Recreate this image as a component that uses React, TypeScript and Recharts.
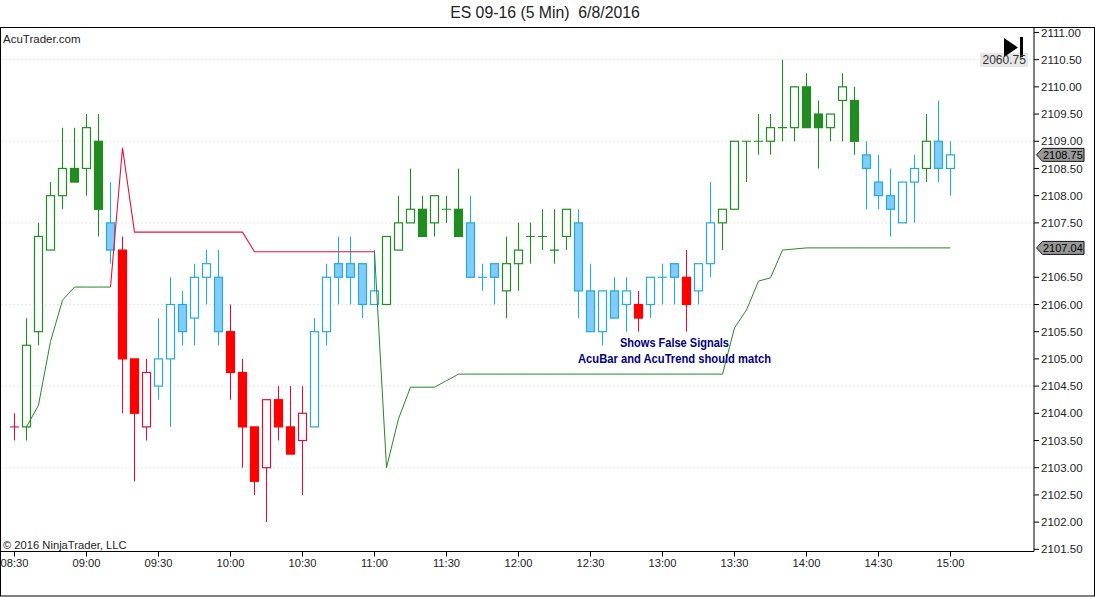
import { Bar, CartesianGrid, ComposedChart, Line, ReferenceDot, XAxis, YAxis } from "recharts"

const times = [
  "08:30", "08:35", "08:40", "08:45", "08:50", "08:55", "09:00", "09:05", "09:10", "09:15", "09:20", "09:25", "09:30",
  "09:35", "09:40", "09:45", "09:50", "09:55", "10:00", "10:05", "10:10", "10:15", "10:20", "10:25", "10:30", "10:35",
  "10:40", "10:45", "10:50", "10:55", "11:00", "11:05", "11:10", "11:15", "11:20", "11:25", "11:30", "11:35", "11:40",
  "11:45", "11:50", "11:55", "12:00", "12:05", "12:10", "12:15", "12:20", "12:25", "12:30", "12:35", "12:40", "12:45",
  "12:50", "12:55", "13:00", "13:05", "13:10", "13:15", "13:20", "13:25", "13:30", "13:35", "13:40", "13:45", "13:50",
  "13:55", "14:00", "14:05", "14:10", "14:15", "14:20", "14:25", "14:30", "14:35", "14:40", "14:45", "14:50", "14:55",
  "15:00",
]

const opens = [
  2103.75, 2103.75, 2105.5, 2107, 2108, 2108.5, 2108.5, 2109, 2107.5, 2107, 2105, 2103.75, 2104.5,
  2105, 2106, 2105.75, 2106.5, 2106.5, 2105.5, 2104.75, 2103.75, 2103, 2104.25, 2103.75, 2103.5, 2103.75,
  2105.5, 2106.75, 2106.75, 2106.75, 2106, 2106, 2107, 2107.5, 2107.75, 2107.5, 2107.75, 2107.75, 2107.5,
  2106.5, 2106.75, 2106.25, 2106.75, 2107.25, 2107.25, 2107, 2107.25, 2107.5, 2106.25, 2105.5, 2106.25, 2106,
  2106, 2106, 2106.5, 2106.75, 2106.5, 2106.25, 2106.75, 2107.5, 2107.75, 2109, 2109, 2109, 2109.25,
  2109.25, 2110, 2109.5, 2109.25, 2109.75, 2109.75, 2108.75, 2108.25, 2108, 2107.5, 2108.25, 2108.5, 2109,
  2108.5,
]
const highs = [
  2104, 2105.75, 2107.5, 2108.25, 2109.25, 2109.25, 2109.5, 2109.5, 2108.25, 2107.25, 2105, 2105, 2105.75,
  2106.5, 2106.25, 2106.75, 2107, 2107, 2106, 2105, 2103.75, 2104.25, 2104.5, 2104.5, 2104.5, 2105.75,
  2106.75, 2107.25, 2107.25, 2106.75, 2107, 2107.25, 2108, 2108.5, 2108, 2108, 2108, 2108.5, 2108,
  2106.75, 2106.75, 2107.25, 2107.5, 2107.5, 2107.75, 2107.75, 2107.75, 2107.75, 2106.75, 2106.25, 2106.5, 2106.5,
  2106.25, 2106.5, 2106.75, 2106.75, 2107, 2106.75, 2108.25, 2107.75, 2109, 2109, 2109.5, 2109.5, 2110.5,
  2110, 2110.25, 2109.75, 2109.5, 2110.25, 2110, 2109, 2108.75, 2108.5, 2108.25, 2108.75, 2109.5, 2109.75,
  2109,
]
const lows = [
  2103.5, 2103.5, 2105.25, 2107, 2107.75, 2108.25, 2108, 2107.25, 2106.75, 2104, 2102.75, 2103.5, 2104.25,
  2103.75, 2105.25, 2105.25, 2106, 2105.25, 2104.25, 2103, 2102.5, 2102, 2103.5, 2103.25, 2102.5, 2103.75,
  2105.25, 2106, 2106, 2105.75, 2106, 2106, 2107, 2107.5, 2107.25, 2107.25, 2107.5, 2107.25, 2106.5,
  2106.25, 2106, 2105.75, 2106.25, 2106.75, 2107, 2106.75, 2107, 2105.75, 2105.5, 2105.25, 2105.75, 2105.5,
  2105.5, 2105.75, 2106, 2106, 2105.5, 2106, 2106.5, 2107, 2107.75, 2108.25, 2108.75, 2108.75, 2109,
  2109, 2109.25, 2108.5, 2109, 2109, 2108.75, 2107.75, 2107.75, 2107.25, 2107.5, 2107.5, 2108.25, 2108.25,
  2108,
]
const closes = [
  2103.75, 2105.25, 2107.25, 2108, 2108.5, 2108.25, 2109.25, 2107.75, 2107, 2105, 2104, 2104.75, 2105,
  2106, 2105.5, 2106.5, 2106.75, 2105.5, 2104.75, 2103.75, 2102.75, 2104.25, 2103.75, 2103.25, 2104, 2105.5,
  2106.5, 2106.5, 2106.5, 2106, 2106.25, 2107.25, 2107.5, 2107.75, 2107.25, 2108, 2107.75, 2107.25, 2106.5,
  2106.5, 2106.5, 2106.75, 2107, 2107.25, 2107.25, 2107, 2107.75, 2106.25, 2105.5, 2106.25, 2105.75, 2106.25,
  2105.75, 2106.5, 2106.5, 2106.5, 2106, 2106.75, 2107.5, 2107.75, 2109, 2109, 2109, 2109.25, 2109.25,
  2110, 2109.25, 2109.25, 2109.5, 2110, 2109, 2108.5, 2108, 2107.75, 2108.25, 2108.5, 2109, 2108.5,
  2108.75,
]
// AcuBar state of each bar: g = long, b = neutral, r = short
const barStates = [
  "r", "ggggggg", "b", "rrr", "bbbbbb", "rrrrrrr", "bbbbbb", "ggggggg", "bbb", "gggggg", "bbbbb", "r", "bbb", "r", "bb",
  "gggggggggggg", "bbbbb", "g", "bb",
].join("")

const trendUp = [
  null, 2103.75, 2104.15, 2105.32, 2106.08, 2106.32, 2106.32, 2106.32, 2106.32, null, null, null, null,
  null, null, null, null, null, null, null, null, null, null, null, null, null,
  null, null, null, null, 2106.97, 2103, 2103.9, 2104.48, 2104.48, 2104.48, 2104.6, 2104.72, 2104.72,
  2104.72, 2104.72, 2104.72, 2104.72, 2104.72, 2104.72, 2104.72, 2104.72, 2104.72, 2104.72, 2104.72, 2104.72, 2104.72,
  2104.72, 2104.72, 2104.72, 2104.72, 2104.72, 2104.72, 2104.72, 2104.72, 2105.57, 2105.9, 2106.43, 2106.49, 2107,
  2107.02, 2107.04, 2107.04, 2107.04, 2107.04, 2107.04, 2107.04, 2107.04, 2107.04, 2107.04, 2107.04, 2107.04, 2107.04,
  2107.04,
]
const trendDown = [
  null, null, null, null, null, null, null, null, 2106.32, 2108.88, 2107.33, 2107.33, 2107.33,
  2107.33, 2107.33, 2107.33, 2107.33, 2107.33, 2107.33, 2107.33, 2106.97, 2106.97, 2106.97, 2106.97, 2106.97, 2106.97,
  2106.97, 2106.97, 2106.97, 2106.97, 2106.97,
]

const priceTicks = [
  2101.5, 2102, 2102.5, 2103, 2103.5, 2104, 2104.5, 2105, 2105.5, 2106, 2106.5, 2107.5, 2108, 2108.5, 2109,
  2109.5, 2110, 2110.5, 2111,
]
const gridLevels = [2103, 2104.5, 2106, 2107.5, 2109, 2110.5]
const timeTicks = [
  "08:30", "09:00", "09:30", "10:00", "10:30", "11:00", "11:30", "12:00", "12:30", "13:00", "13:30", "14:00", "14:30",
  "15:00",
]
const lastPrice = 2108.75
const lastTrend = 2107.04

const chartData = times.map((time, i) => ({
  time,
  open: opens[i],
  high: highs[i],
  low: lows[i],
  close: closes[i],
  state: barStates[i],
  trendUp: trendUp[i] ?? null,
  trendDown: trendDown[i] ?? null,
}))

const GREEN = "#228B22"
const RED = "#FF0000"
const CRIMSON = "#D0143C"
const BLUE = "#25A9DC"
const LIGHT_BLUE = "#82CCFB"
const FONT = "'Liberation Sans', Arial, sans-serif"

const styles: Record<string, { stroke: string; fill: string; wick: string }> = {
  g: { stroke: GREEN, fill: GREEN, wick: GREEN },
  b: { stroke: BLUE, fill: LIGHT_BLUE, wick: BLUE },
  r: { stroke: RED, fill: RED, wick: CRIMSON },
}

function Candle(props: any) {
  const { x, y, width, height, payload } = props
  const { open, high, low, close, state } = payload
  const s = styles[state]
  const cx = x + width / 2
  const pxPerPoint = Math.abs(height) / (high - low)
  const yOf = (p: number) => y + (high - p) * pxPerPoint
  const top = yOf(Math.max(open, close))
  const bottom = yOf(Math.min(open, close))
  const falling = close < open
  const hollowStroke = state === "r" ? CRIMSON : s.stroke
  return (
    <g>
      <line x1={cx} x2={cx} y1={y} y2={y + Math.abs(height)} stroke={s.wick} strokeWidth={1.1} />
      {open === close ? (
        <line x1={cx - 4.5} x2={cx + 4.5} y1={top} y2={top} stroke={hollowStroke} strokeWidth={1.1} />
      ) : (
        <rect
          x={cx - 4}
          y={top}
          width={8}
          height={bottom - top}
          fill={falling ? s.fill : "#fff"}
          stroke={falling ? s.stroke : hollowStroke}
          strokeWidth={1.2}
        />
      )}
    </g>
  )
}

function PriceTag(props: any) {
  const { cx, cy, label } = props
  // tag sits on the price scale, right of the last bar
  const left = cx + 86
  return (
    <g>
      <path
        d={`M${left} ${cy} L${left + 6} ${cy - 6.5} H${left + 47.5} V${cy + 6.5} H${left + 6} Z`}
        fill="#999"
        stroke="#111"
        strokeWidth={1}
      />
      <text x={left + 6.5} y={cy + 4} fontSize={11} fontFamily={FONT} fill="#000">
        {label}
      </text>
    </g>
  )
}

export default function App() {
  return (
    <div style={{ position: "absolute", left: 0, top: 0, width: 1095, height: 597, background: "#fff", overflow: "hidden" }}>
      <ComposedChart
        width={1095}
        height={597}
        data={chartData}
        margin={{ top: 27, left: 1, right: 0, bottom: 0 }}
        barCategoryGap={0}
      >
        <CartesianGrid
          vertical={false}
          horizontalValues={gridLevels}
          stroke="#e6e6e6"
          strokeDasharray="2 2"
        />
        <XAxis
          dataKey="time"
          ticks={timeTicks}
          interval={0}
          height={45.5}
          padding={{ left: 7.5, right: 77.5 }}
          stroke="#000"
          tickSize={5}
          tickMargin={3}
          tick={{ fontSize: 11.2, fontFamily: FONT, fill: "#222" }}
        />
        <YAxis
          orientation="right"
          width={61}
          domain={[2101.46, 2111.1]}
          ticks={priceTicks}
          interval={0}
          allowDataOverflow
          stroke="#000"
          tickSize={5}
          tickMargin={2}
          tickFormatter={(v: number) => v.toFixed(2)}
          tick={{ fontSize: 11.5, fontFamily: FONT, fill: "#222" }}
        />
        <Bar dataKey={(d: any) => [d.low, d.high]} shape={Candle} isAnimationActive={false} />
        <Line dataKey="trendUp" stroke={GREEN} strokeWidth={1} dot={false} activeDot={false} isAnimationActive={false} />
        <Line dataKey="trendDown" stroke="#E0143C" strokeWidth={1.1} dot={false} activeDot={false} isAnimationActive={false} />
        <ReferenceDot
          x="15:00"
          y={lastPrice}
          ifOverflow="visible"
          shape={(p: any) => <PriceTag {...p} label={lastPrice.toFixed(2)} />}
        />
        <ReferenceDot
          x="15:00"
          y={lastTrend}
          ifOverflow="visible"
          shape={(p: any) => <PriceTag {...p} label={lastTrend.toFixed(2)} />}
        />
      </ComposedChart>
      <svg width={1095} height={597} style={{ position: "absolute", left: 0, top: 0, pointerEvents: "none" }}>
        <rect x={0.5} y={27.5} width={1094} height={568.5} fill="none" stroke="#000" strokeWidth={1} />
        <text x={545} y={18} textAnchor="middle" fontSize={15.8} fontFamily={FONT} fill="#222" xmlSpace="preserve">
          {"ES 09-16 (5 Min)  6/8/2016"}
        </text>
        <text x={3} y={43} fontSize={11.5} fontFamily={FONT} fill="#222">AcuTrader.com</text>
        <text x={3} y={549} fontSize={11.2} fontFamily={FONT} fill="#222">© 2016 NinjaTrader, LLC</text>
        <rect x={980} y={53} width={48} height={14} fill="#e6e6e6" />
        <polygon points="1004,38 1018,47.5 1004,57" fill="#000" />
        <rect x={1020} y={37} width={3} height={20} fill="#000" />
        <text x={982.5} y={64} fontSize={12} fontFamily={FONT} fill="#333">2060.75</text>
        <text
          x={674.5}
          y={347}
          textAnchor="middle"
          fontSize={12.5}
          fontWeight="bold"
          fontFamily={FONT}
          fill="#000080"
          textLength={109}
          lengthAdjust="spacingAndGlyphs"
        >
          Shows False Signals
        </text>
        <text
          x={674.5}
          y={362.5}
          textAnchor="middle"
          fontSize={12.5}
          fontWeight="bold"
          fontFamily={FONT}
          fill="#000080"
          textLength={193}
          lengthAdjust="spacingAndGlyphs"
        >
          AcuBar and AcuTrend should match
        </text>
      </svg>
    </div>
  )
}
